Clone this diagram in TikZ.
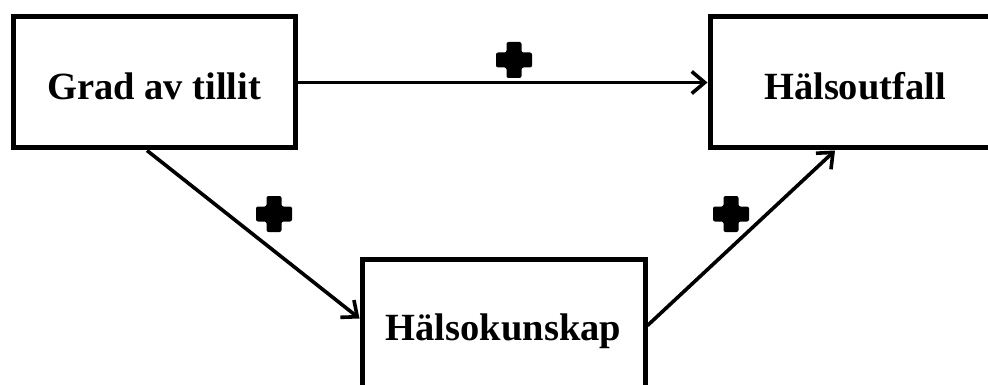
\documentclass[tikz,border=0pt]{standalone}
\usepackage{fontspec}
\setmainfont{Liberation Serif}
\usetikzlibrary{arrows.meta}
\tikzset{
  box/.style={draw=black, line width=5pt, fill=white, rectangle, inner sep=0pt,
    font=\fontsize{38.5}{40}\selectfont\bfseries, text height=35pt, text depth=0pt},
  link/.style={line width=3.6pt, -{Straight Barb[length=13pt,width=22pt,line width=3.6pt]}},
  plussign/.pic={\fill[rounded corners=2pt] (-7.5,-18) -- (7.5,-18) -- (7.5,-7.5) -- (18,-7.5) -- (18,7.5) -- (7.5,7.5) -- (7.5,18) -- (-7.5,18) -- (-7.5,7.5) -- (-18,7.5) -- (-18,-7.5) -- (-7.5,-7.5) -- cycle;}
}
\begin{document}
\begin{tikzpicture}[x=1pt,y=-1pt]
\useasboundingbox (0,0) rectangle (988,385);
\clip (0,0) rectangle (988,385);
\fill[white] (0,0) rectangle (988,385);
\node[box, minimum width=282pt, minimum height=131pt] (g) at (154,82.5) {Grad av tillit};
\node[box, minimum width=290pt, minimum height=131pt] (h) at (855,82.5) {Hälsoutfall};
\node[box, minimum width=283pt, minimum height=133pt, text height=29pt] (k) at (503.5,325.5) {Hälsokunskap};
\draw[link] (g) -- (h);
\draw[link] ([xshift=-7pt]g.south) -- ([yshift=7pt]k.west);
\draw[link] (k.east) -- ([xshift=-20pt]h.south);
\pic at (514,60) {plussign};
\pic at (274,214) {plussign};
\pic at (731,214) {plussign};
\end{tikzpicture}
\end{document}
